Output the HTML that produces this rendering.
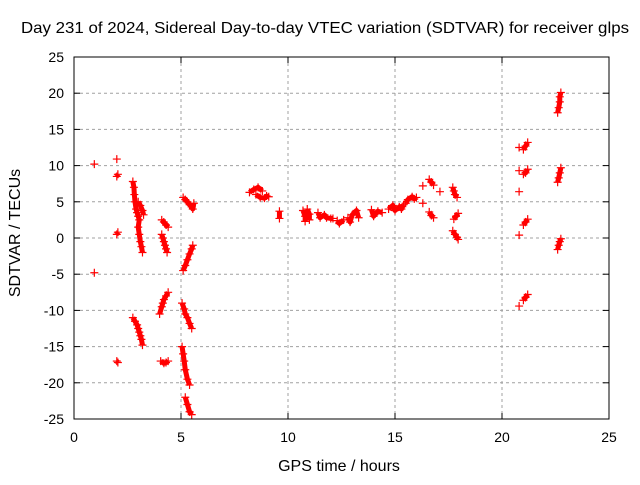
<!DOCTYPE html>
<html><head><meta charset="utf-8">
<style>
body{margin:0;background:#fff;}
svg text{font-family:"Liberation Sans",sans-serif;fill:#000;}
</style></head>
<body>
<svg id="chart" width="640" height="480" xmlns="http://www.w3.org/2000/svg">
<text x="325" y="33" font-size="16" text-anchor="middle" textLength="608" lengthAdjust="spacingAndGlyphs">Day 231 of 2024, Sidereal Day-to-day VTEC variation (SDTVAR) for receiver glps</text>
<text x="339" y="471" font-size="16" text-anchor="middle">GPS time / hours</text>
<text transform="translate(20,233) rotate(-90)" font-size="16" text-anchor="middle">SDTVAR / TECUs</text>
<g id="grid"></g>
<g id="ticks"></g>
<g id="marks"></g>
<rect x="74" y="57" width="535" height="362" fill="none" stroke="#000" stroke-width="1"/>
</svg>
<script>
const xTicks=[0,5,10,15,20,25];
const yTicks=[25,20,15,10,5,0,-5,-10,-15,-20,-25];
const segments=[
[[0.95,10.2]],[[0.95,-4.8]],[[2.0,10.9]],
[[2.0,8.5],[2.05,8.8]],[[2.0,0.5],[2.05,0.8]],[[2.0,-17.0],[2.05,-17.2]],
[[2.75,7.8],[2.8,7],[2.82,6],[2.85,5],[2.9,4],[2.95,3.5],[3.0,3],[3.05,2.5],[3.0,1.5],[3.05,0.5],[3.1,-0.5],[3.15,-1.2],[3.2,-2]],
[[3.0,5],[3.1,4.5],[3.2,3.8],[3.25,3.2]],
[[2.75,-11],[2.85,-11.5],[2.95,-12],[3.0,-12.5],[3.05,-13],[3.1,-13.5],[3.15,-14],[3.2,-14.8]],
[[4.1,2.5],[4.2,2.2],[4.3,1.8],[4.4,1.5]],
[[4.1,0.5],[4.15,0],[4.2,-0.5],[4.25,-1],[4.3,-1.5],[4.35,-2]],
[[4.0,-10.5],[4.1,-9.5],[4.15,-9],[4.2,-8.5],[4.3,-8],[4.4,-7.5]],
[[4.05,-17],[4.2,-17.3],[4.3,-17.2],[4.4,-17]],
[[5.1,5.6],[5.2,5.3],[5.3,5],[5.4,4.6],[5.5,4.3],[5.55,4.0],[5.6,4.8]],
[[5.1,-4.5],[5.2,-3.8],[5.3,-3],[5.4,-2.2],[5.5,-1.5],[5.55,-1]],
[[5.05,-9],[5.15,-9.8],[5.2,-10.5],[5.3,-11],[5.4,-11.8],[5.5,-12.5]],
[[5.05,-15],[5.1,-16],[5.15,-17],[5.2,-18.2],[5.3,-19.5],[5.4,-20.3]],
[[5.2,-22],[5.3,-23],[5.4,-24],[5.5,-24.4]],
[[8.2,6.3],[8.4,6.7],[8.6,7.0],[8.8,6.5]],[[8.5,6.0],[8.7,5.6],[8.9,5.5],[9.0,5.8],[9.1,5.7]],
[[9.6,3.7],[9.6,2.7]],
[[10.7,3.8],[10.8,3],[10.8,2.3]],[[10.9,4],[11.0,3.3],[11.0,2.5]],
[[11.4,3.5],[11.5,2.8],[11.7,3.2],[11.8,2.8],[12.0,2.7],[12.1,2.7]],
[[12.3,2.4],[12.4,2.0],[12.6,2.5]],
[[12.8,2.8],[12.9,2.2],[13.0,3.2],[13.2,3.8],[13.3,2.8]],
[[13.9,3.9],[14.0,3.0],[14.2,3.7],[14.4,3.5]],
[[14.7,4.0],[14.9,4.5],[15.0,3.8],[15.2,4.3],[15.3,4.0],[15.4,4.6]],
[[15.5,4.8],[15.6,5.3],[15.8,5.7],[15.9,5.4],[16.0,5.6]],
[[16.3,7.2]],[[16.3,4.8]],
[[16.6,8.1],[16.7,7.7],[16.8,7.3]],[[17.1,6.4]],
[[16.6,3.6],[16.7,3.1],[16.8,2.8]],
[[17.7,7.0],[17.75,6.5],[17.8,6.0],[17.9,5.6]],
[[17.75,2.6],[17.85,3.0],[17.95,3.4]],
[[17.7,1.0],[17.8,0.5],[17.9,0.1],[17.95,-0.2]],
[[20.8,12.5]],[[21.0,12.2],[21.1,12.7],[21.2,13.2]],
[[20.8,9.3]],[[21.0,8.8],[21.1,9.0],[21.2,9.5]],
[[20.8,6.4]],[[20.8,0.4]],[[21.0,1.8],[21.1,2.2],[21.2,2.6]],
[[20.8,-9.4]],[[21.0,-8.6],[21.1,-8.2],[21.2,-7.8]],
[[22.6,17.3],[22.65,18],[22.7,18.8],[22.7,19.5],[22.75,20.1]],
[[22.6,7.7],[22.65,8.3],[22.7,9.0],[22.75,9.7]],
[[22.6,-1.6],[22.65,-1.0],[22.7,-0.5],[22.75,-0.1]]
];
const X0=74,X1=609,Y0=419,Y1=57;
function xs(h){return X0+(h-0)/25*(X1-X0);}
function ys(v){return Y0-(v+25)/50*(Y0-Y1);}
const NS='http://www.w3.org/2000/svg';
const grid=document.getElementById('grid'),ticks=document.getElementById('ticks'),marks=document.getElementById('marks');
function mk(tag,attrs,parent){const e=document.createElementNS(NS,tag);for(const k in attrs)e.setAttribute(k,attrs[k]);parent.appendChild(e);return e;}
xTicks.forEach(t=>{
  const x=xs(t);
  if(t>0&&t<25){const g=mk('line',{x1:x,x2:x,y1:Y1,y2:Y0,stroke:'#a0a0a0','stroke-dasharray':'3,3'},grid);
  
  }
  const l=mk('line',{x1:x,x2:x,y1:Y0,y2:Y0-6,stroke:'#000'},ticks);
  
  
  const l2=mk('line',{x1:x,x2:x,y1:Y1,y2:Y1+6,stroke:'#000'},ticks);
  
  
  const tx=mk('text',{x:x,y:442,'font-size':14,'text-anchor':'middle'},ticks);tx.textContent=t;
  
  
});
yTicks.forEach(t=>{
  const y=ys(t);
  if(t>-25&&t<25){const g=mk('line',{x1:X0,x2:X1,y1:y,y2:y,stroke:'#a0a0a0','stroke-dasharray':'3,3'},grid);
  
  }
  const l=mk('line',{x1:X0,x2:X0+6,y1:y,y2:y,stroke:'#000'},ticks);
  
  
  const l2=mk('line',{x1:X1,x2:X1-6,y1:y,y2:y,stroke:'#000'},ticks);
  
  
  const tx=mk('text',{x:64,y:y+5,'font-size':14,'text-anchor':'end'},ticks);tx.textContent=t;
  
  
});
segments.forEach(seg=>{
  if(seg.length>1){
    const pl=mk('polyline',{points:seg.map(p=>xs(p[0])+','+ys(p[1])).join(' '),fill:'none',stroke:'#f00','stroke-width':5,'stroke-linejoin':'round'},marks);
    
    
  }
  seg.forEach(p=>{
    const x=xs(p[0]),y=ys(p[1]);
    const pt=mk('path',{d:`M${x-4},${y}H${x+4}M${x},${y-4}V${y+4}`,stroke:'#f00','stroke-width':1.2},marks);
    
    
  });
});
</script>
</body></html>
